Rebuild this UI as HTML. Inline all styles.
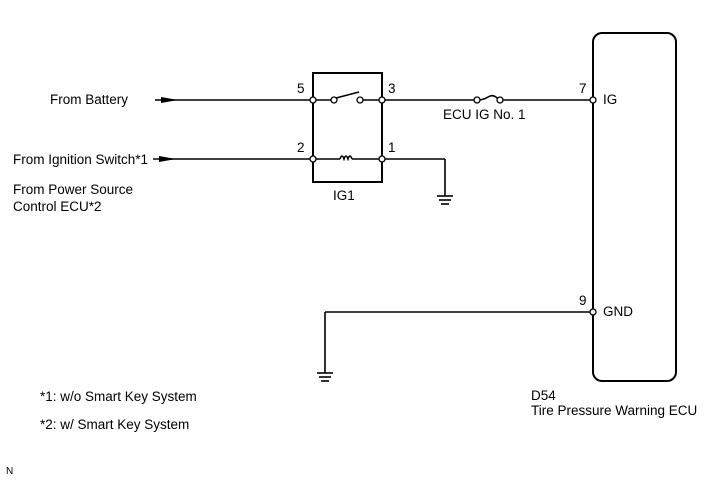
<!DOCTYPE html>
<html><head><style>
body{margin:0;background:#fff;}
svg{display:block;font-family:"Liberation Sans",Arial,sans-serif;font-size:13.5px;fill:#000;}
</style></head><body>
<svg width="713" height="481" viewBox="0 0 713 481" xmlns="http://www.w3.org/2000/svg">
<g stroke="#000" stroke-width="1.6" fill="none">
<rect x="593" y="33" width="83" height="348" rx="9" stroke-width="2"/>
<rect x="313" y="73" width="69" height="109" stroke-width="2"/>
<line x1="155" y1="100" x2="313" y2="100"/>
<line x1="153" y1="159" x2="313" y2="159"/>
<line x1="313" y1="100" x2="331" y2="100"/>
<line x1="362" y1="100" x2="382" y2="100"/>
<line x1="336" y1="98" x2="359" y2="92"/>
<line x1="313" y1="159" x2="340" y2="159"/>
<path d="M340 159 q2-6 4 0 q2-6 4 0 q2-6 4 0"/>
<line x1="352" y1="159" x2="382" y2="159"/>
<line x1="382" y1="159" x2="445" y2="159"/>
<line x1="445" y1="159" x2="445" y2="196"/>
<line x1="437" y1="196" x2="453" y2="196"/>
<line x1="439" y1="200" x2="451" y2="200"/>
<line x1="441" y1="204" x2="449" y2="204"/>
<line x1="382" y1="100" x2="475" y2="100"/>
<path d="M480 100 q5-1 8-3 q5-3 9 1"/>
<line x1="502" y1="100" x2="593" y2="100"/>
<line x1="593" y1="312" x2="325" y2="312"/>
<line x1="325" y1="312" x2="325" y2="373"/>
<line x1="317" y1="373" x2="333" y2="373"/>
<line x1="319" y1="377" x2="331" y2="377"/>
<line x1="321" y1="381" x2="329" y2="381"/>
</g>
<g fill="#000">
<polygon points="161,97 178,100 161,103"/>
<polygon points="159,156 176,159 159,162"/>
</g>
<g stroke="#000" stroke-width="1.3" fill="#fff">
<circle cx="313" cy="100" r="3"/><circle cx="382" cy="100" r="3"/>
<circle cx="313" cy="159" r="3"/><circle cx="382" cy="159" r="3"/>
<circle cx="334" cy="100" r="3"/><circle cx="360" cy="100" r="3"/>
<circle cx="477" cy="100" r="3"/><circle cx="500" cy="100" r="3"/>
<circle cx="593" cy="100" r="3"/><circle cx="593" cy="312" r="3"/>
</g>
<text x="50" y="104">From Battery</text>
<text x="13" y="164">From Ignition Switch*1</text>
<text x="13" y="194">From Power Source</text>
<text x="13" y="211">Control ECU*2</text>
<text x="297" y="93">5</text>
<text x="388" y="93">3</text>
<text x="297" y="152">2</text>
<text x="388" y="152">1</text>
<text x="333" y="200">IG1</text>
<text x="443" y="119">ECU IG No. 1</text>
<text x="579" y="93">7</text>
<text x="603" y="104">IG</text>
<text x="579" y="305">9</text>
<text x="603" y="316">GND</text>
<text x="531" y="400">D54</text>
<text x="531" y="415">Tire Pressure Warning ECU</text>
<text x="40" y="401">*1: w/o Smart Key System</text>
<text x="40" y="429">*2: w/ Smart Key System</text>
<text x="6" y="474" style="font-size:10px">N</text>
</svg>
</body></html>
